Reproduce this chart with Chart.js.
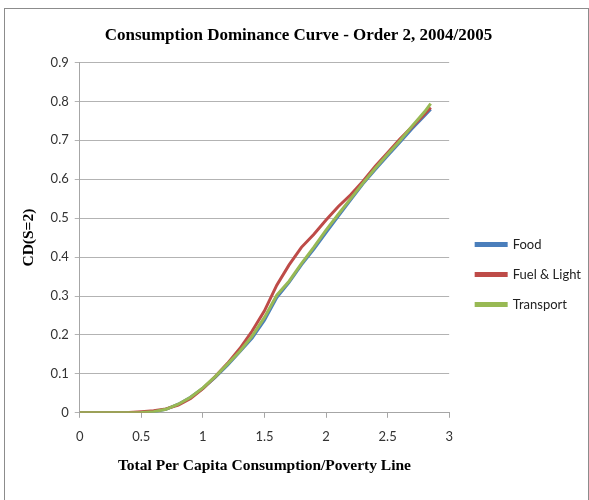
<!DOCTYPE html>
<html>
<head>
<meta charset="utf-8">
<script src="https://cdn.jsdelivr.net/npm/chart.js@4.4.0/dist/chart.umd.min.js"></script>
<style>
  body { margin: 0; background: #fff; }
  #wrap { position: relative; width: 589px; height: 500px; }
  #frame { position: absolute; left: 4px; top: 8px; width: 583px; height: 495px; border: 1px solid #8c8c8c; pointer-events: none; }
  canvas { position: absolute; left: 0; top: 0; }
</style>
</head>
<body>
<div id="wrap">
  <canvas id="cdChart" width="589" height="500"></canvas>
  <div id="frame"></div>
</div>
<script>
// x values: total per capita consumption / poverty line
const povertyRatio = [0, 0.1, 0.2, 0.3, 0.4, 0.5, 0.6, 0.7, 0.8, 0.9, 1.0, 1.1, 1.2, 1.3, 1.4, 1.5,
  1.6, 1.7, 1.8, 1.9, 2.0, 2.1, 2.2, 2.3, 2.4, 2.5, 2.6, 2.7, 2.8, 2.85];

// CD(S=2) values
const foodCD = [0, 0, 0, 0, 0, 0.001, 0.003, 0.009, 0.022, 0.04, 0.063, 0.091, 0.122, 0.157, 0.192, 0.238,
  0.296, 0.335, 0.38, 0.42, 0.463, 0.505, 0.547, 0.588, 0.625, 0.66, 0.695, 0.73, 0.763, 0.78];
const fuelCD = [0, 0, 0, 0, 0.001, 0.003, 0.005, 0.01, 0.02, 0.037, 0.062, 0.093, 0.127, 0.165, 0.21, 0.262,
  0.328, 0.38, 0.425, 0.458, 0.495, 0.53, 0.56, 0.595, 0.633, 0.668, 0.703, 0.735, 0.767, 0.784];
const transportCD = [0, 0, 0, 0, 0, 0.001, 0.003, 0.009, 0.022, 0.04, 0.064, 0.093, 0.125, 0.158, 0.197, 0.245,
  0.302, 0.338, 0.383, 0.425, 0.469, 0.51, 0.55, 0.59, 0.628, 0.664, 0.699, 0.737, 0.773, 0.794];

const xTicks = [0, 0.5, 1, 1.5, 2, 2.5, 3];
const yTicks = [0, 0.1, 0.2, 0.3, 0.4, 0.5, 0.6, 0.7, 0.8, 0.9];

const toPoints = (vals) => vals.map((v, i) => ({ x: povertyRatio[i], y: v }));

const lineSet = (label, vals, color, order) => ({
  label: label,
  data: toPoints(vals),
  borderColor: color,
  backgroundColor: color,
  borderWidth: 3,
  pointRadius: 0,
  tension: 0,
  order: order,
});

// nudge the legend down/right to where Excel put it
const legendShift = {
  id: "legendShift",
  afterLayout(chart) {
    const lg = chart.legend;
    lg.top += 35;
    lg.bottom += 35;
    lg.left += 10;
    lg.right += 10;
  },
};

const ctx = document.getElementById("cdChart").getContext("2d");
const cdChart = new Chart(ctx, {
  type: "line",
  data: {
    datasets: [
      lineSet("Food", foodCD, "#4a7ebb", 3),
      lineSet("Fuel & Light", fuelCD, "#be4b48", 2),
      lineSet("Transport", transportCD, "#98b954", 1),
    ],
  },
  plugins: [legendShift],
  options: {
    responsive: false,
    animation: false,
    layout: { padding: { left: 16, right: 8, top: 0, bottom: 21 } },
    plugins: {
      title: {
        display: true,
        text: "Consumption Dominance Curve - Order 2, 2004/2005",
        color: "#000",
        font: { family: "Liberation Serif", size: 17, weight: "bold" },
        padding: { top: 25, bottom: 17 },
      },
      legend: {
        position: "right",
        labels: {
          boxWidth: 30,
          boxHeight: 2,
          color: "#222",
          padding: 17,
          font: { family: "Lato", size: 13 },
          sort: (a, b) => a.datasetIndex - b.datasetIndex,
        },
      },
      tooltip: { enabled: false },
    },
    scales: {
      x: {
        type: "linear",
        min: 0,
        max: 3,
        afterBuildTicks: (axis) => { axis.ticks = xTicks.map((v) => ({ value: v })); },
        ticks: { color: "#333", font: { family: "Lato", size: 13 }, padding: 11, callback: (v) => String(v) },
        grid: { drawOnChartArea: false, color: "#a6a6a6", tickLength: 5 },
        border: { color: "#a6a6a6" },
        title: {
          display: true,
          text: "Total Per Capita Consumption/Poverty Line",
          color: "#000",
          font: { family: "Liberation Serif", size: 15.5, weight: "bold" },
          padding: { top: 1 },
        },
      },
      y: {
        min: 0,
        max: 0.9,
        afterBuildTicks: (axis) => { axis.ticks = yTicks.map((v) => ({ value: v })); },
        ticks: { color: "#333", font: { family: "Lato", size: 13 }, padding: 6, callback: (v) => String(v) },
        grid: { color: "#b3b3b3", tickLength: 5 },
        border: { color: "#a6a6a6" },
        title: {
          display: true,
          text: "CD(S=2)",
          color: "#000",
          font: { family: "Liberation Serif", size: 15.5, weight: "bold" },
          padding: { bottom: 6 },
        },
      },
    },
  },
});
</script>
</body>
</html>
